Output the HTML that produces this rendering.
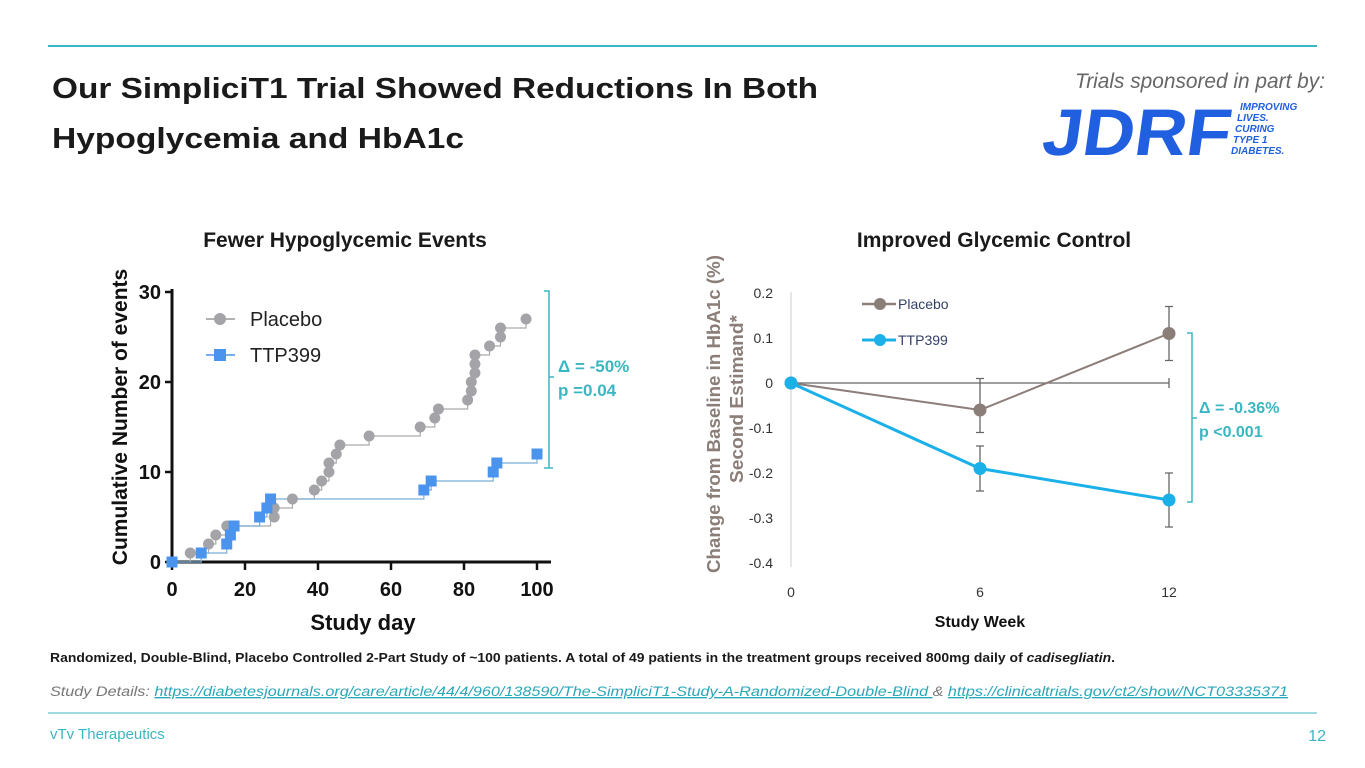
<!DOCTYPE html>
<html><head><meta charset="utf-8"><style>
body{margin:0;width:1365px;height:768px;background:#fff;overflow:hidden}
svg{display:block;font-family:"Liberation Sans",sans-serif}
</style></head><body>
<svg id="root" width="1365" height="768" viewBox="0 0 1365 768" xmlns="http://www.w3.org/2000/svg">
<line x1="48" y1="46" x2="1317" y2="46" stroke="#3ab7c2" stroke-width="2"/>
<text x="52" y="98" font-size="29" font-weight="bold" fill="#1a1a1a" textLength="766" lengthAdjust="spacingAndGlyphs">Our SimpliciT1 Trial Showed Reductions In Both</text>
<text x="52" y="148" font-size="29" font-weight="bold" fill="#1a1a1a" textLength="412" lengthAdjust="spacingAndGlyphs">Hypoglycemia and HbA1c</text>
<text x="1075" y="88" font-size="21" font-style="italic" fill="#666" textLength="250" lengthAdjust="spacingAndGlyphs">Trials sponsored in part by:</text>
<g>
<text x="1042" y="155" font-size="66" font-weight="bold" fill="#1f5fe0" textLength="188" lengthAdjust="spacingAndGlyphs" transform="skewX(-8) translate(20,0)">JDRF</text>
<g font-size="10" font-weight="bold" font-style="italic" fill="#1f5fe0">
<text x="1240" y="110">IMPROVING</text><text x="1237" y="121">LIVES.</text><text x="1235" y="132">CURING</text><text x="1233" y="143">TYPE 1</text><text x="1231" y="154">DIABETES.</text></g>
</g>
<text x="345" y="247" font-size="21" font-weight="bold" fill="#1a1a1a" text-anchor="middle">Fewer Hypoglycemic Events</text>
<text x="994" y="247" font-size="21" font-weight="bold" fill="#1a1a1a" text-anchor="middle">Improved Glycemic Control</text>
<g id="left"></g>
<g id="right"></g>
<text x="50" y="662" font-size="12.5" font-weight="bold" fill="#1a1a1a" textLength="1065" lengthAdjust="spacingAndGlyphs">Randomized, Double-Blind, Placebo Controlled 2-Part Study of ~100 patients. A total of 49 patients in the treatment groups received 800mg daily of <tspan font-style="italic">cadisegliatin</tspan>.</text>
<text x="50" y="696" font-size="13.5" font-style="italic" fill="#777" textLength="1238" lengthAdjust="spacingAndGlyphs">Study Details: <tspan fill="#2aa7b8" text-decoration="underline">https://diabetesjournals.org/care/article/44/4/960/138590/The-SimpliciT1-Study-A-Randomized-Double-Blind </tspan>&amp;  <tspan fill="#2aa7b8" text-decoration="underline">https://clinicaltrials.gov/ct2/show/NCT03335371</tspan></text>
<line x1="48" y1="713" x2="1317" y2="713" stroke="#3ab7c2" stroke-width="1"/>
<text x="50" y="739" font-size="15" fill="#3ab7c2">vTv Therapeutics</text>
<text x="1326" y="741" font-size="16" fill="#3ab7c2" text-anchor="end">12</text>
</svg>
<script>
const NS="http://www.w3.org/2000/svg";
// Left chart data
const xTicksL=[0,20,40,60,80,100];
const yTicksL=[0,10,20,30];
const placeboDays=[0,5,10,12,15,16,27,28,28,33,39,41,43,43,45,46,54,68,72,73,81,82,82,83,83,83,87,90,90,97];
const placeboCounts=[0,1,2,3,4,4,6,5,6,7,8,9,10,11,12,13,14,15,16,17,18,19,20,21,22,23,24,25,26,27];
const ttpDays=[0,8,15,16,17,24,26,27,69,71,88,89,100];
const ttpCounts=[0,1,2,3,4,5,6,7,8,9,10,11,12];
// Right chart data
const weeks=[0,6,12];
const yTicksR=[0.2,0.1,0,-0.1,-0.2,-0.3,-0.4];
const placeboMean=[0,-0.06,0.11];
const placeboLo=[0,-0.11,0.05];
const placeboHi=[0,0.01,0.17];
const ttpMean=[0,-0.19,-0.26];
const ttpLo=[0,-0.24,-0.32];
const ttpHi=[0,-0.14,-0.20];

function mk(tag,attrs,parent,txt){const e=document.createElementNS(NS,tag);for(const k in attrs)e.setAttribute(k,attrs[k]);if(txt!==undefined)e.textContent=txt;parent.appendChild(e);return e;}

// ---- Left chart
const L=document.getElementById('left');
const xL=d=>172+d*3.65, yL=v=>562-v*9;
let e;
e=mk('line',{x1:172,y1:289,x2:172,y2:563,stroke:'#111','stroke-width':3},L);


e=mk('line',{x1:171,y1:562,x2:551,y2:562,stroke:'#111','stroke-width':3},L);


xTicksL.forEach(t=>{
 mk('line',{x1:xL(t),y1:562,x2:xL(t),y2:570,stroke:'#111','stroke-width':2.5},L);
 e=mk('text',{x:xL(t),y:596,'font-size':20,'font-weight':'bold','text-anchor':'middle',fill:'#111'},L,t);
 
 
});
yTicksL.forEach(t=>{
 mk('line',{x1:165,y1:yL(t),x2:172,y2:yL(t),stroke:'#111','stroke-width':2.5},L);
 e=mk('text',{x:161,y:yL(t)+7,'font-size':20,'font-weight':'bold','text-anchor':'end',fill:'#111'},L,t);
 
 
});
e=mk('text',{x:363,y:630,'font-size':22,'font-weight':'bold','text-anchor':'middle',fill:'#111'},L,'Study day');


e=mk('text',{x:0,y:0,'font-size':21,'font-weight':'bold','text-anchor':'middle',fill:'#111',transform:'translate(127,417) rotate(-90)'},L,'Cumulative Number of events');


function stepPath(ds,cs){let d='M'+xL(ds[0])+','+yL(cs[0]);for(let i=1;i<ds.length;i++){d+=' H'+xL(ds[i])+' V'+yL(cs[i]);}return d;}
e=mk('path',{d:stepPath(placeboDays,placeboCounts),fill:'none',stroke:'#aaa','stroke-width':1.2},L);


e=mk('path',{d:stepPath(ttpDays,ttpCounts),fill:'none',stroke:'#7aaed6','stroke-width':1.2},L);


placeboDays.forEach((d,i)=>{
 e=mk('circle',{cx:xL(d),cy:yL(placeboCounts[i]),r:5.5,fill:'#a3a3a8'},L);
 
 
});
ttpDays.forEach((d,i)=>{
 e=mk('rect',{x:xL(d)-5.5,y:yL(ttpCounts[i])-5.5,width:11,height:11,fill:'#4a94ee'},L);
 
 
});
// legend
mk('line',{x1:206,y1:319,x2:235,y2:319,stroke:'#999','stroke-width':1.5},L);
mk('circle',{cx:220,cy:319,r:6,fill:'#a3a3a8'},L);
e=mk('text',{x:250,y:326,'font-size':20,fill:'#222'},L,'Placebo');


mk('line',{x1:206,y1:355,x2:235,y2:355,stroke:'#4a94ee','stroke-width':1.5},L);
mk('rect',{x:214,y:349,width:12,height:12,fill:'#4a94ee'},L);
e=mk('text',{x:250,y:362,'font-size':20,fill:'#222'},L,'TTP399');


e=mk('path',{d:'M544,291 H549 V468 H553 M549,468 V467 M549,377 H554 M549,468 H544',fill:'none',stroke:'#3ab7c2','stroke-width':1.5},L);


e=mk('text',{x:558,y:372,'font-size':17,'font-weight':'bold',fill:'#3ab7c2'},L,'Δ = -50%');


e=mk('text',{x:558,y:396,'font-size':17,'font-weight':'bold',fill:'#3ab7c2'},L,'p =0.04');



// ---- Right chart
const R=document.getElementById('right');
const xR=w=>791+w*31.5, yR=v=>383-v*450;
e=mk('line',{x1:791,y1:292,x2:791,y2:567,stroke:'#ccc','stroke-width':1},R);


mk('line',{x1:791,y1:yR(0),x2:xR(12),y2:yR(0),stroke:'#666','stroke-width':1.3},R);
mk('line',{x1:xR(12),y1:yR(0)-5,x2:xR(12),y2:yR(0)+5,stroke:'#666','stroke-width':1.3},R);
yTicksR.forEach(t=>{
 e=mk('text',{x:773,y:yR(t)+5,'font-size':14,'text-anchor':'end',fill:'#333'},R,t);
 
 
});
weeks.forEach(w=>{
 e=mk('text',{x:xR(w),y:597,'font-size':14,'text-anchor':'middle',fill:'#333'},R,w);
 
 
});
e=mk('text',{x:980,y:627,'font-size':16,'font-weight':'bold','text-anchor':'middle',fill:'#111'},R,'Study Week');


e=mk('text',{x:0,y:0,'font-size':18.5,'font-weight':'bold','text-anchor':'middle',fill:'#8b7d78',transform:'translate(720,414) rotate(-90)',textLength:318,lengthAdjust:'spacingAndGlyphs'},R,'Change from Baseline in HbA1c (%)');


e=mk('text',{x:0,y:0,'font-size':18.5,'font-weight':'bold','text-anchor':'middle',fill:'#8b7d78',transform:'translate(743,399) rotate(-90)',textLength:168,lengthAdjust:'spacingAndGlyphs'},R,'Second Estimand*');


function series(mean,lo,hi,col,name,w){
 let d=mean.map((v,i)=>(i?'L':'M')+xR(weeks[i])+','+yR(v)).join(' ');
 e=mk('path',{d:d,fill:'none',stroke:col,'stroke-width':w},R);
 
 
 mean.forEach((v,i)=>{
  if(lo[i]!==hi[i]){
   const x=xR(weeks[i]);
   e=mk('path',{d:`M${x},${yR(lo[i])} V${yR(hi[i])} M${x-4},${yR(lo[i])} H${x+4} M${x-4},${yR(hi[i])} H${x+4}`,stroke:'#666','stroke-width':1.3,fill:'none'},R);
   
   
  }
  e=mk('circle',{cx:xR(weeks[i]),cy:yR(v),r:6.5,fill:col},R);
  
  
 });
}
series(placeboMean,placeboLo,placeboHi,'#8b7d78','placebo',2);
series(ttpMean,ttpLo,ttpHi,'#1bb0e8','ttp399',3);
mk('line',{x1:862,y1:304,x2:896,y2:304,stroke:'#8b7d78','stroke-width':2.5},R);
mk('circle',{cx:880,cy:304,r:6,fill:'#8b7d78'},R);
e=mk('text',{x:898,y:309,'font-size':14,fill:'#33406a'},R,'Placebo');


mk('line',{x1:862,y1:340,x2:896,y2:340,stroke:'#1bb0e8','stroke-width':3},R);
mk('circle',{cx:880,cy:340,r:6,fill:'#1bb0e8'},R);
e=mk('text',{x:898,y:345,'font-size':14,fill:'#33406a'},R,'TTP399');


e=mk('path',{d:'M1187,333 H1192 V502 H1187 M1192,418 H1197',fill:'none',stroke:'#3ab7c2','stroke-width':1.5},R);


e=mk('text',{x:1199,y:413,'font-size':16,'font-weight':'bold',fill:'#3ab7c2'},R,'Δ = -0.36%');


e=mk('text',{x:1199,y:437,'font-size':16,'font-weight':'bold',fill:'#3ab7c2'},R,'p <0.001');


</script>
</body></html>
